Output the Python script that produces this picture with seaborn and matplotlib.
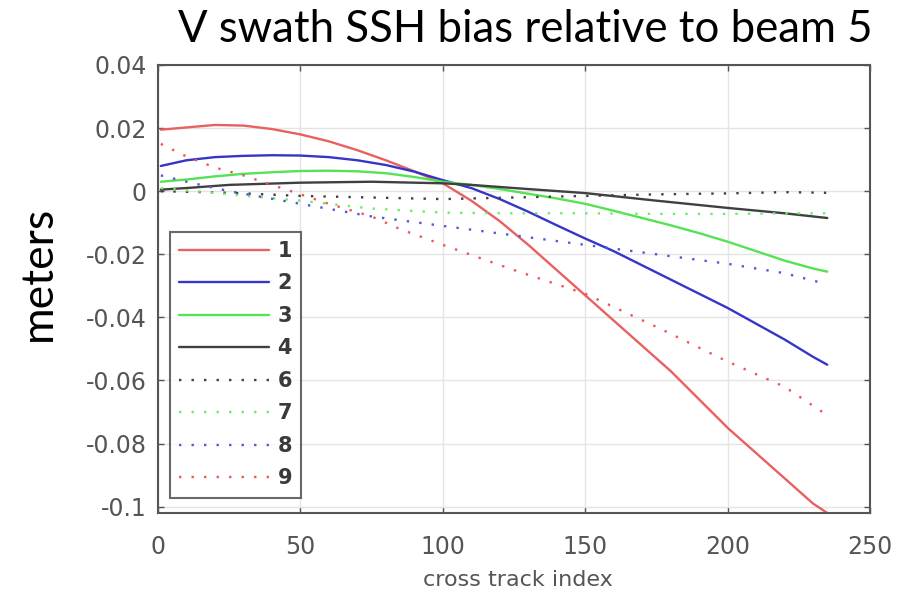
import matplotlib
matplotlib.use("Agg")
import matplotlib.pyplot as plt
import seaborn as sns
import pandas as pd

# cross track index samples and SSH bias (m) for each beam, relative to beam 5
x_1 = [1, 10, 20, 30, 40, 50, 60, 70, 80, 90, 100, 110, 120, 130, 140, 150, 160, 170, 180, 190, 200,
       210, 220, 230, 235]
beam_1 = [0.0195, 0.0202, 0.021, 0.0208, 0.0197, 0.018, 0.0158, 0.013, 0.0098, 0.0063, 0.0025, -0.003,
          -0.0095, -0.017, -0.025, -0.033, -0.041, -0.049, -0.057, -0.066, -0.075, -0.083, -0.091,
          -0.099, -0.102]
x_2 = [1, 10, 20, 30, 40, 50, 60, 70, 80, 90, 100, 110, 120, 130, 140, 150, 160, 170, 180, 190, 200,
       210, 220, 230, 235]
beam_2 = [0.008, 0.0098, 0.0108, 0.0112, 0.0114, 0.0113, 0.0108, 0.0098, 0.0083, 0.0062, 0.0035, 0.001,
          -0.0025, -0.0065, -0.0108, -0.015, -0.019, -0.0235, -0.028, -0.0325, -0.037, -0.042, -0.047,
          -0.0525, -0.055]
x_3 = [1, 10, 20, 30, 40, 50, 60, 70, 80, 90, 100, 110, 120, 130, 140, 150, 160, 170, 180, 190, 200,
       210, 220, 230, 235]
beam_3 = [0.003, 0.0037, 0.0047, 0.0055, 0.006, 0.0064, 0.0065, 0.0063, 0.0057, 0.0045, 0.003, 0.002,
          0.0007, -0.0008, -0.0023, -0.004, -0.0062, -0.0085, -0.0108, -0.0133, -0.016, -0.019, -0.022,
          -0.0245, -0.0255]
x_4 = [1, 10, 25, 50, 75, 100, 110, 125, 150, 175, 200, 220, 235]
beam_4 = [0.0005, 0.001, 0.002, 0.0027, 0.003, 0.0025, 0.002, 0.001, -0.0006, -0.003, -0.0053, -0.007, -0.0085]
x_6 = [1, 25, 50, 75, 100, 125, 150, 175, 200, 220, 235]
beam_6 = [0.0, -0.0005, -0.0015, -0.002, -0.0025, -0.002, -0.0015, -0.001, -0.0007, -0.0003, -0.0005]
x_7 = [1, 25, 50, 75, 100, 125, 150, 175, 200, 220, 235]
beam_7 = [0.001, -0.001, -0.003, -0.0055, -0.0068, -0.007, -0.007, -0.0072, -0.0072, -0.007, -0.007]
x_8 = [1, 10, 25, 50, 75, 100, 125, 150, 175, 200, 220, 235]
beam_8 = [0.005, 0.003, 0.0, -0.004, -0.008, -0.011, -0.014, -0.017, -0.020, -0.023, -0.026, -0.0295]
x_9 = [1, 10, 20, 30, 40, 50, 60, 75, 85, 100, 125, 150, 175, 200, 220, 235]
beam_9 = [0.015, 0.011, 0.0075, 0.005, 0.002, -0.001, -0.004, -0.008, -0.012, -0.017, -0.025, -0.0325,
          -0.043, -0.054, -0.062, -0.071]

x_ticks = [0, 50, 100, 150, 200, 250]
y_ticks = [-0.1, -0.08, -0.06, -0.04, -0.02, 0, 0.02, 0.04]
y_tick_labels = ["-0.1", "-0.08", "-0.06", "-0.04", "-0.02", "0", "0.02", "0.04"]

sns.set_theme(style="white")
plt.rcParams["font.family"] = ["DejaVu Sans"]

fig = plt.figure(figsize=(9.13, 5.98), dpi=100)
ax = fig.add_axes([158 / 913, 1 - 513 / 598, (870 - 158) / 913, (513 - 65) / 598])

solid = "-"
dotted = (0, (1, 4.3))
series = [
    ("1", x_1, beam_1, "#e8605f", solid),
    ("2", x_2, beam_2, "#3535c8", solid),
    ("3", x_3, beam_3, "#55e255", solid),
    ("4", x_4, beam_4, "#404040", solid),
    ("6", x_6, beam_6, "#404040", dotted),
    ("7", x_7, beam_7, "#66ee66", dotted),
    ("8", x_8, beam_8, "#5555e0", dotted),
    ("9", x_9, beam_9, "#ee5555", dotted),
]
for label, xs, ys, color, ls in series:
    df = pd.DataFrame({"x": xs, "y": ys})
    sns.lineplot(data=df, x="x", y="y", ax=ax, color=color, linestyle=ls,
                 linewidth=1.7, label=label, sort=False, estimator=None)

ax.set_xlim(0, 250)
ax.set_ylim(-0.102, 0.04)
ax.set_xticks(x_ticks)
ax.set_yticks(y_ticks)
ax.set_yticklabels(y_tick_labels)
ax.grid(True, color="#e4e4e4", linewidth=1.0)
ax.tick_params(axis="both", direction="in", length=4, width=1, colors="#555555", labelsize=17,
               top=True, right=True, bottom=True, left=True, labelcolor="#555555")
ax.tick_params(axis="x", pad=16)
ax.tick_params(axis="y", pad=8)
for s in ax.spines.values():
    s.set_color("#555555")
    s.set_linewidth(1.5)
ax.set_xlabel("")
ax.set_ylabel("")

leg = ax.legend(loc="lower left", bbox_to_anchor=(0.017, 0.034),
                prop={"size": 15, "weight": "bold"}, handlelength=4.3,
                labelspacing=0.6, handletextpad=0.4, borderpad=0.45, frameon=True, fancybox=False,
                borderaxespad=0)
leg.get_frame().set_edgecolor("#444444")
leg.get_frame().set_linewidth(1.5)
for t in leg.get_texts():
    t.set_color("#3a3a3a")

fig.text(525 / 913, 1 - 30 / 598, "V swath SSH bias relative to beam 5", ha="center", va="center",
         fontsize=31.5, family=["Lato", "DejaVu Sans"], color="black")
fig.text(38 / 913, 1 - 273 / 598, "meters", ha="center", va="center", rotation=90,
         fontsize=32, family=["Lato", "DejaVu Sans"], color="black")
fig.text(518 / 913, 1 - 580 / 598, "cross track index", ha="center", va="center",
         fontsize=16, color="#555555")

fig.savefig("out.png", dpi=100)
